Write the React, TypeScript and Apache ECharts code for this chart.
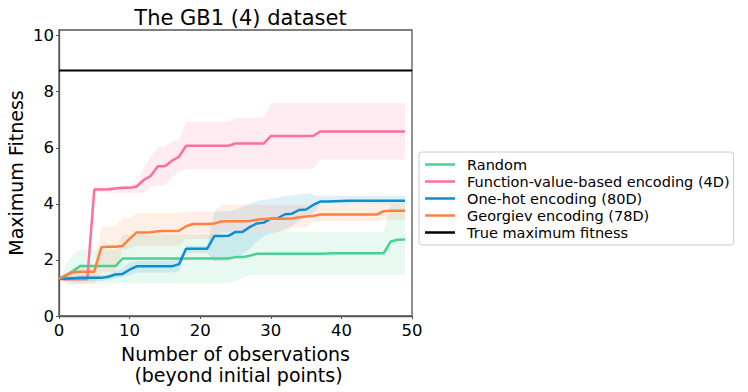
import React, { useEffect, useRef } from "react";
import * as echarts from "echarts";

const FONT = "DejaVu Sans";

const steps: number[] = Array.from({ length: 50 }, (_, i) => i);

const seriesNames = [
  "Random",
  "Function-value-based encoding (4D)",
  "One-hot encoding (80D)",
  "Georgiev encoding (78D)",
];
const trueMaxName = "True maximum fitness";
const trueMax = 8.76;

// Random
const randomMean = [
  1.33, 1.45, 1.6, 1.78, 1.78, 1.78, 1.78, 1.78, 1.78, 2.05,
  2.05, 2.05, 2.05, 2.05, 2.05, 2.05, 2.05, 2.05, 2.05, 2.05,
  2.05, 2.05, 2.05, 2.05, 2.05, 2.1, 2.1, 2.15, 2.22, 2.22,
  2.22, 2.22, 2.22, 2.22, 2.22, 2.22, 2.22, 2.22, 2.23, 2.24,
  2.24, 2.24, 2.24, 2.24, 2.24, 2.24, 2.24, 2.66, 2.72, 2.73,
];
const randomUpper = [
  1.33, 1.85, 2.2, 2.36, 2.36, 2.36, 2.36, 2.36, 2.36, 2.9,
  2.9, 2.9, 2.9, 2.9, 2.9, 2.9, 2.9, 2.9, 2.9, 2.9,
  2.9, 2.9, 2.9, 2.9, 2.9, 3.0, 3.0, 3.0, 3.0, 3.0,
  3.0, 3.0, 3.0, 3.0, 3.0, 3.0, 3.0, 3.0, 3.0, 3.0,
  3.0, 3.0, 3.0, 3.0, 3.0, 3.0, 3.0, 3.98, 3.98, 3.98,
];
const randomLower = [
  1.33, 1.15, 1.12, 1.16, 1.16, 1.16, 1.16, 1.16, 1.16, 1.16,
  1.16, 1.16, 1.16, 1.16, 1.16, 1.16, 1.16, 1.16, 1.16, 1.16,
  1.16, 1.16, 1.16, 1.16, 1.16, 1.25, 1.35, 1.45, 1.47, 1.47,
  1.47, 1.47, 1.47, 1.47, 1.47, 1.47, 1.47, 1.47, 1.47, 1.47,
  1.47, 1.47, 1.47, 1.47, 1.47, 1.47, 1.47, 1.47, 1.47, 1.47,
];

// Function-value-based encoding (4D)
const funcMean = [
  1.33, 1.31, 1.31, 1.31, 1.31, 4.51, 4.51, 4.52, 4.55, 4.57,
  4.57, 4.62, 4.85, 5.0, 5.34, 5.34, 5.54, 5.68, 6.07, 6.07,
  6.07, 6.07, 6.07, 6.07, 6.07, 6.15, 6.15, 6.15, 6.15, 6.15,
  6.42, 6.42, 6.42, 6.42, 6.42, 6.42, 6.42, 6.58, 6.58, 6.58,
  6.58, 6.58, 6.58, 6.58, 6.58, 6.58, 6.58, 6.58, 6.58, 6.58,
];
const funcUpper = [
  1.35, 1.35, 1.35, 1.35, 1.35, 4.62, 4.62, 4.62, 4.63, 4.64,
  4.68, 4.75, 5.28, 5.7, 6.03, 6.03, 6.23, 6.29, 6.93, 6.93,
  6.93, 6.93, 6.93, 6.93, 6.93, 7.07, 7.07, 7.07, 7.07, 7.07,
  7.6, 7.6, 7.6, 7.6, 7.6, 7.6, 7.6, 7.6, 7.6, 7.6,
  7.6, 7.6, 7.6, 7.6, 7.6, 7.6, 7.6, 7.6, 7.6, 7.6,
];
const funcLower = [
  1.28, 1.28, 1.28, 1.28, 1.28, 4.42, 4.42, 4.4, 4.38, 4.38,
  4.38, 4.38, 4.38, 4.6, 4.65, 4.65, 4.95, 5.15, 5.24, 5.24,
  5.24, 5.24, 5.24, 5.24, 5.24, 5.24, 5.24, 5.24, 5.24, 5.24,
  5.24, 5.24, 5.24, 5.24, 5.24, 5.24, 5.24, 5.58, 5.58, 5.58,
  5.58, 5.58, 5.58, 5.58, 5.58, 5.58, 5.58, 5.58, 5.58, 5.58,
];

// One-hot encoding (80D)
const oneHotMean = [
  1.32, 1.34, 1.35, 1.36, 1.36, 1.36, 1.36, 1.4, 1.48, 1.5,
  1.65, 1.77, 1.77, 1.77, 1.77, 1.77, 1.77, 1.85, 2.4, 2.4,
  2.4, 2.4, 2.85, 2.85, 2.86, 3.0, 3.0, 3.17, 3.3, 3.33,
  3.47, 3.49, 3.63, 3.65, 3.78, 3.8, 3.96, 4.08, 4.08, 4.09,
  4.1, 4.11, 4.11, 4.11, 4.11, 4.11, 4.11, 4.11, 4.11, 4.11,
];
const oneHotUpper = [
  1.33, 1.45, 1.45, 1.45, 1.45, 1.45, 1.45, 1.5, 1.6, 1.7,
  1.9, 1.97, 1.97, 1.97, 1.97, 1.97, 1.97, 2.05, 2.5, 2.5,
  2.5, 2.5, 3.73, 3.73, 3.73, 3.8, 3.9, 4.0, 4.1, 4.15,
  4.18, 4.22, 4.28, 4.3, 4.33, 4.38, 4.33, 4.29, 4.29, 4.29,
  4.29, 4.29, 4.29, 4.29, 4.29, 4.29, 4.29, 4.29, 4.29, 4.29,
];
const oneHotLower = [
  1.31, 1.25, 1.25, 1.25, 1.25, 1.25, 1.25, 1.28, 1.35, 1.38,
  1.45, 1.55, 1.55, 1.55, 1.55, 1.55, 1.55, 1.6, 2.25, 2.25,
  2.25, 2.25, 1.95, 1.95, 2.0, 2.1, 2.2, 2.4, 2.65, 2.85,
  2.95, 3.0, 3.1, 3.2, 3.4, 3.55, 3.65, 3.98, 3.98, 3.98,
  3.98, 3.98, 3.98, 3.98, 3.98, 3.98, 3.98, 3.98, 3.98, 3.98,
];

// Georgiev encoding (78D)
const georgievMean = [
  1.33, 1.45, 1.56, 1.58, 1.58, 1.58, 2.45, 2.47, 2.47, 2.5,
  2.75, 2.98, 2.98, 2.99, 3.02, 3.03, 3.03, 3.04, 3.2, 3.28,
  3.28, 3.28, 3.3, 3.37, 3.38, 3.38, 3.38, 3.39, 3.43, 3.46,
  3.47, 3.47, 3.47, 3.48, 3.52, 3.55, 3.57, 3.62, 3.62, 3.62,
  3.62, 3.62, 3.62, 3.62, 3.62, 3.62, 3.74, 3.75, 3.75, 3.75,
];
const georgievUpper = [
  1.33, 1.55, 1.7, 1.75, 1.75, 1.75, 3.19, 3.19, 3.19, 3.49,
  3.5, 3.67, 3.67, 3.67, 3.67, 3.67, 3.67, 3.67, 3.73, 3.73,
  3.73, 3.73, 3.73, 3.97, 3.97, 3.97, 3.97, 3.97, 3.97, 3.97,
  3.97, 3.97, 3.97, 3.97, 3.97, 3.97, 3.97, 3.97, 3.97, 3.97,
  3.97, 3.97, 3.97, 3.97, 3.97, 3.97, 4.0, 4.0, 4.0, 4.0,
];
const georgievLower = [
  1.33, 1.2, 1.15, 1.15, 1.15, 1.15, 1.55, 1.55, 1.55, 2.36,
  2.4, 2.5, 2.5, 2.5, 2.5, 2.5, 2.5, 2.5, 2.75, 2.75,
  2.75, 2.75, 2.75, 3.0, 3.0, 3.0, 3.0, 3.0, 3.0, 3.0,
  3.0, 3.0, 3.0, 3.15, 3.15, 3.15, 3.37, 3.37, 3.37, 3.37,
  3.37, 3.37, 3.37, 3.37, 3.37, 3.37, 3.43, 3.43, 3.43, 3.43,
];

const colors = ["#48d190", "#ff6e9e", "#0e8ecf", "#ff8040"];
const means = [randomMean, funcMean, oneHotMean, georgievMean];
const uppers = [randomUpper, funcUpper, oneHotUpper, georgievUpper];
const lowers = [randomLower, funcLower, oneHotLower, georgievLower];

const xTicks = [0, 10, 20, 30, 40, 50];
const yTicks = [0, 2, 4, 6, 8, 10];

function bandSeries(name: string, lower: number[], upper: number[], color: string) {
  return {
    type: "custom",
    name: name + " band",
    silent: true,
    data: steps.map((x, i) => [x, lower[i], upper[i]]),
    encode: { x: 0, y: [1, 2] },
    renderItem: (params: any, api: any) => {
      if (params.dataIndexInside !== 0) return null;
      const top = steps.map((x, i) => api.coord([x, upper[i]]));
      const bottom = steps.map((x, i) => api.coord([x, lower[i]])).reverse();
      return {
        type: "polygon",
        shape: { points: top.concat(bottom) },
        style: { fill: color, opacity: 0.13, stroke: color, lineWidth: 0.6, strokeOpacity: 0.1 },
      };
    },
  };
}

function lineSeries(name: string, values: number[], color: string) {
  return {
    type: "line",
    name,
    data: steps.map((x, i) => [x, values[i]]),
    showSymbol: false,
    symbol: "none",
    itemStyle: { color },
    lineStyle: { color, width: 2.5 },
    silent: true,
  };
}

export default function App() {
  const ref = useRef<HTMLDivElement>(null);
  useEffect(() => {
    if (!ref.current) return;
    const chart = echarts.init(ref.current, undefined, { renderer: "svg" });
    const series: any[] = [];
    seriesNames.forEach((n, k) => {
      series.push(bandSeries(n, lowers[k], uppers[k], colors[k]));
      series.push(lineSeries(n, means[k], colors[k]));
    });
    series.push({
      type: "line",
      name: trueMaxName,
      data: [
        [0, trueMax],
        [50, trueMax],
      ],
      showSymbol: false,
      symbol: "none",
      itemStyle: { color: "#000" },
      lineStyle: { color: "#000", width: 2 },
      silent: true,
    });
    chart.setOption({
      animation: false,
      textStyle: { fontFamily: FONT },
      title: {
        text: "The GB1 (4) dataset",
        left: 235.5,
        top: 2,
        textAlign: "center",
        textStyle: { fontFamily: FONT, fontSize: 21, fontWeight: "normal", color: "#000" },
      },
      grid: {
        left: 59,
        right: 336,
        top: 30,
        bottom: 76,
        show: true,
        borderColor: "#555",
        borderWidth: 1.3,
        backgroundColor: "transparent",
      },
      legend: {
        orient: "vertical",
        left: 419,
        top: 152,
        z: 20,
        zlevel: 0,
        data: [...seriesNames, trueMaxName].map((n) => ({ name: n, icon: "rect" })),
        itemWidth: 30,
        itemHeight: 2.5,
        itemGap: 0,
        padding: [4, 4, 4, 6],
        backgroundColor: "#fff",
        borderColor: "#cccccc",
        borderWidth: 1,
        borderRadius: 3,
        textStyle: { fontFamily: FONT, fontSize: 14.5, color: "#000", lineHeight: 17, padding: [0, 0, 0, 7] },
      },
      xAxis: {
        type: "value",
        min: 0,
        max: 50,
        interval: 10,
        z: 0,
        name: "Number of observations\n (beyond initial points)",
        nameLocation: "middle",
        nameGap: 26,
        nameTextStyle: { fontFamily: FONT, fontSize: 19, color: "#000", lineHeight: 21, verticalAlign: "top" },
        axisLine: { show: true, lineStyle: { color: "#555", width: 1.3 } },
        axisTick: { show: true, inside: false, length: 3, lineStyle: { color: "#555" }, customValues: xTicks },
        axisLabel: { fontFamily: FONT, fontSize: 16.5, color: "#000", margin: 6, customValues: xTicks },
        splitLine: { show: false },
      },
      yAxis: {
        type: "value",
        min: 0,
        max: 10.2,
        interval: 2,
        name: "Maximum Fitness",
        nameLocation: "middle",
        nameGap: 34,
        nameTextStyle: { fontFamily: FONT, fontSize: 19, color: "#000" },
        axisLine: { show: true, lineStyle: { color: "#555", width: 1.3 } },
        axisTick: { show: true, inside: false, length: 3, lineStyle: { color: "#555" }, customValues: yTicks },
        axisLabel: { fontFamily: FONT, fontSize: 16.5, color: "#000", margin: 5, customValues: yTicks },
        splitLine: { show: false },
      },
      series,
    });
    return () => chart.dispose();
  }, []);
  return (
    <div
      ref={ref}
      style={{ position: "fixed", left: 0, top: 0, width: 748, height: 392, background: "#fff" }}
    />
  );
}
